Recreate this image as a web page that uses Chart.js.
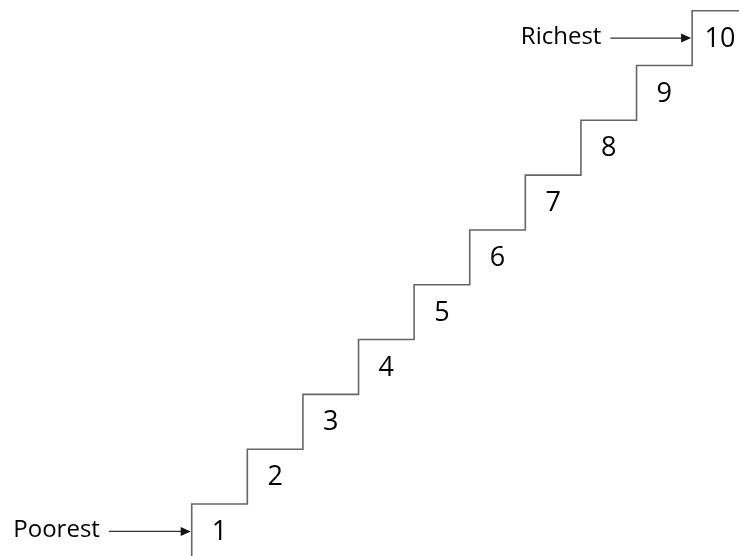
<!DOCTYPE html>
<html>
<head>
<meta charset="utf-8">
<script src="https://cdn.jsdelivr.net/npm/chart.js@4/dist/chart.umd.min.js"></script>
<style>
  html, body { margin: 0; padding: 0; background: #fff; }
  .stairs-container { width: 739px; height: 556px; position: relative; }
</style>
</head>
<body>
<div class="stairs-container">
  <canvas id="myChart"></canvas>
</div>
<script>
// decile steps: each step k is one unit wide and one unit high
const stepLabels = ['1', '2', '3', '4', '5', '6', '7', '8', '9', '10'];
const stepEdges = [0, 1, 2, 3, 4, 5, 6, 7, 8, 9, 10];
const stepLevels = [0, 1, 2, 3, 4, 5, 6, 7, 8, 9, 10];

// side notes: text, arrow tail x, arrow tip x, y (data units)
const noteTexts = ['Poorest', 'Richest'];
const noteTailX = [-1.49, 7.53];
const noteTipX = [0, 9];
const noteY = [0.5, 9.5];

const lineColor = '#666666';
const textColor = '#000000';

const stairData = stepEdges.map((x, i) => ({ x: x, y: stepLevels[i] }));

const labelsPlugin = {
    id: 'stairLabels',
    afterDatasetsDraw(chart) {
        const { ctx, scales } = chart;
        const xs = scales.x, ys = scales.y;
        ctx.save();
        ctx.fillStyle = textColor;
        ctx.textAlign = 'center';
        ctx.textBaseline = 'middle';
        ctx.font = '27px "Open Sans"';
        stepLabels.forEach((lab, i) => {
            ctx.fillText(lab, xs.getPixelForValue(i + 0.5), ys.getPixelForValue(i + 0.5) + 1);
        });

        // arrows with text
        ctx.font = '24px "Open Sans"';
        ctx.textAlign = 'right';
        noteTexts.forEach((t, i) => {
            const x0 = xs.getPixelForValue(noteTailX[i]);
            const x1 = xs.getPixelForValue(noteTipX[i]) - 1;
            const y = ys.getPixelForValue(noteY[i]);
            ctx.strokeStyle = '#333';
            ctx.lineWidth = 1.2;
            ctx.beginPath();
            ctx.moveTo(x0, y);
            ctx.lineTo(x1 - 8, y);
            ctx.stroke();
            ctx.fillStyle = '#111';
            ctx.beginPath();
            ctx.moveTo(x1, y);
            ctx.lineTo(x1 - 10, y - 4.5);
            ctx.lineTo(x1 - 10, y + 4.5);
            ctx.closePath();
            ctx.fill();
            ctx.fillStyle = textColor;
            ctx.fillText(t, x0 - 9, y - 1);
        });
        ctx.restore();
    }
};

const myChartRef = document.getElementById('myChart').getContext('2d');
new Chart(myChartRef, {
    type: 'line',
    data: {
        datasets: [
            {
                label: 'Stairs',
                data: stairData,
                stepped: 'after',
                fill: false,
                borderColor: lineColor,
                borderWidth: 1.6,
                pointRadius: 0,
                clip: false
            }
        ]
    },
    options: {
        responsive: true,
        maintainAspectRatio: false,
        animation: false,
        layout: { padding: 0 },
        plugins: {
            legend: { display: false },
            tooltip: { enabled: false }
        },
        scales: {
            x: { type: 'linear', display: false, min: -3.448, max: 9.843 },
            y: { type: 'linear', display: false, min: 0.0513, max: 10.195 }
        }
    },
    plugins: [labelsPlugin]
});
</script>
</body>
</html>
